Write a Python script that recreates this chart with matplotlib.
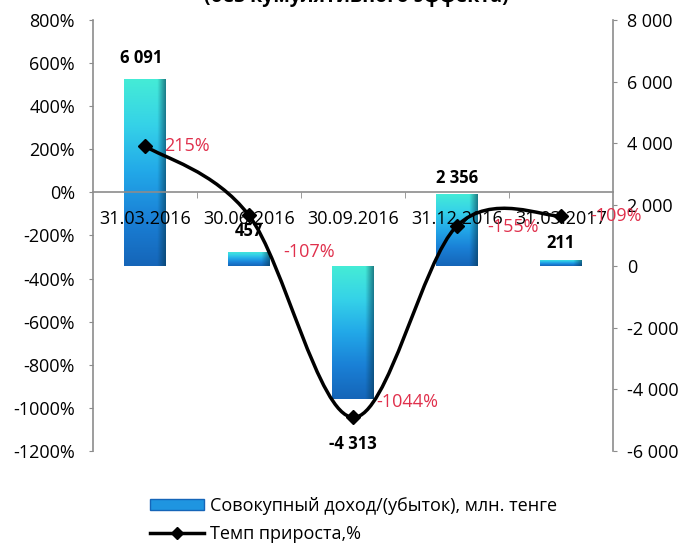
import numpy as np
import matplotlib
matplotlib.use('Agg')
import matplotlib.pyplot as plt
from matplotlib.path import Path
from matplotlib.patches import PathPatch, Patch
from matplotlib.lines import Line2D
from matplotlib.colors import LinearSegmentedColormap

plt.rcParams['font.family'] = ['Open Sans', 'DejaVu Sans']

# data
dates = ['31.03.2016', '30.06.2016', '30.09.2016', '31.12.2016', '31.03.2017']
income = [6091, 457, -4313, 2356, 211]
income_labels = ['6 091', '457', '-4 313', '2 356', '211']
growth = [215, -107, -1044, -155, -109]
growth_labels = ['215%', '-107%', '-1044%', '-155%', '-109%']
pct_ticks = [800, 600, 400, 200, 0, -200, -400, -600, -800, -1000, -1200]
amt_ticks = [8000, 6000, 4000, 2000, 0, -2000, -4000, -6000]
amt_tick_labels = ['8 000', '6 000', '4 000', '2 000', '0', '-2 000', '-4 000', '-6 000']

# label offsets in points (style only)
income_offsets = [(-3, 15), (0, 15), (0, -32), (0, 11), (0, 12)]
growth_offsets = [(14, 0), (25, -26), (17, 11), (22, -1), (21, 0)]

grey = '#8c8c8c'
red = '#e0304c'

fig = plt.figure(figsize=(6.9, 5.43), dpi=100)
ax = fig.add_axes([0.1348, 0.1694, 0.7536, 0.7938])   # bars (right scale)
ax2 = ax.twinx()                                      # line (left scale)

x = np.arange(len(dates))

# gradient bars
cmap = LinearSegmentedColormap.from_list('bar', ['#45ecd6', '#35d2e8', '#22a8e8', '#1a80d6', '#1565b8'])
grad = np.linspace(0, 1, 256).reshape(-1, 1)
shade = np.zeros((1, 64, 4))
shade[..., :3] = [0.02, 0.22, 0.32]
shade[0, :, 3] = np.clip((np.linspace(0, 1, 64) - 0.8) * 3.0, 0, 0.6)
bars = ax.bar(x, income, width=0.4, color='none', edgecolor='none')
for b in bars:
    x0, w = b.get_x(), b.get_width()
    lo = min(b.get_y(), b.get_y() + b.get_height())
    hi = max(b.get_y(), b.get_y() + b.get_height())
    im = ax.imshow(grad, cmap=cmap, extent=(x0, x0 + w, lo, hi), aspect='auto',
                   origin='upper', zorder=2)
    im.set_clip_path(b)
    im2 = ax.imshow(shade, extent=(x0, x0 + w, lo, hi), aspect='auto', zorder=2.1)
    im2.set_clip_path(b)

ax.set_xlim(-0.5, len(dates) - 0.5)
ax.set_ylim(-6000, 8000)
ax.set_yticks(amt_ticks)
ax.set_yticklabels(amt_tick_labels)
ax.yaxis.tick_right()
ax.tick_params(axis='y', direction='out', length=3, color=grey, pad=7, labelsize=13)
ax.tick_params(axis='x', which='both', bottom=False, top=False, labelbottom=False)
for s in ax.spines.values():
    s.set_visible(False)

for xi, v, lab, off in zip(x, income, income_labels, income_offsets):
    ax.annotate(lab, (xi, v), xytext=off, textcoords='offset points',
                ha='center', va='center', fontsize=12, fontweight='bold', zorder=5)

# smooth line (Catmull-Rom style bezier through the points, like Excel)
pts = list(zip(x, growth))
n = len(pts)
verts = [pts[0]]
codes = [Path.MOVETO]
for i in range(n - 1):
    p0 = pts[max(i - 1, 0)]
    p1 = pts[i]
    p2 = pts[i + 1]
    p3 = pts[min(i + 2, n - 1)]
    c1 = (p1[0] + (p2[0] - p0[0]) / 6, p1[1] + (p2[1] - p0[1]) / 6)
    c2 = (p2[0] - (p3[0] - p1[0]) / 6, p2[1] - (p3[1] - p1[1]) / 6)
    verts += [c1, c2, p2]
    codes += [Path.CURVE4] * 3
ax2.add_patch(PathPatch(Path(verts, codes), fill=False, lw=2.5, edgecolor='black', zorder=3))
ax2.plot(x, growth, linestyle='none', marker='D', color='black', ms=7, zorder=4)

for xi, v, lab, off in zip(x, growth, growth_labels, growth_offsets):
    ax2.annotate(lab, (xi, v), xytext=off, textcoords='offset points',
                 ha='left', va='center', fontsize=13, color=red, zorder=5)

ax2.set_ylim(-1200, 800)
ax2.set_yticks(pct_ticks)
ax2.set_yticklabels([f'{v}%' for v in pct_ticks])
ax2.yaxis.tick_left()
ax2.tick_params(axis='y', direction='out', length=3, color=grey, pad=10, labelsize=13)

# category axis crossing at 0%
ax2.xaxis.set_visible(True)
ax2.spines['bottom'].set_position(('data', 0))
ax2.spines['top'].set_visible(False)
for s in ['bottom', 'left', 'right']:
    ax2.spines[s].set_color(grey)
    ax2.spines[s].set_linewidth(1.2)
ax2.set_xticks(x)
ax2.set_xticklabels(dates)
ax2.set_xticks(x[:-1] + 0.5, minor=True)
ax2.tick_params(axis='x', which='major', length=0, pad=13, labelsize=13)
ax2.tick_params(axis='x', which='minor', length=4, color=grey, direction='out')
ax2.set_xlim(-0.5, len(dates) - 0.5)

# cut-off title
fig.text(0.516, 1 - 2 / 543, '(без кумулятивного эффекта)', ha='center', va='baseline',
         fontsize=14, fontweight='bold')

handles = [Patch(facecolor='#1f95e0', edgecolor='#1565b8'),
           Line2D([], [], color='black', lw=2.5, marker='D', ms=6)]
fig.legend(handles, ['Совокупный доход/(убыток), млн. тенге', 'Темп прироста,%'],
           loc='upper left', bbox_to_anchor=(150 / 690, 1 - 497 / 543), frameon=False,
           fontsize=13, handlelength=3.0, handleheight=0.6, handletextpad=0.3,
           labelspacing=0.55, borderpad=0, borderaxespad=0)

fig.savefig('out.png', dpi=100)
